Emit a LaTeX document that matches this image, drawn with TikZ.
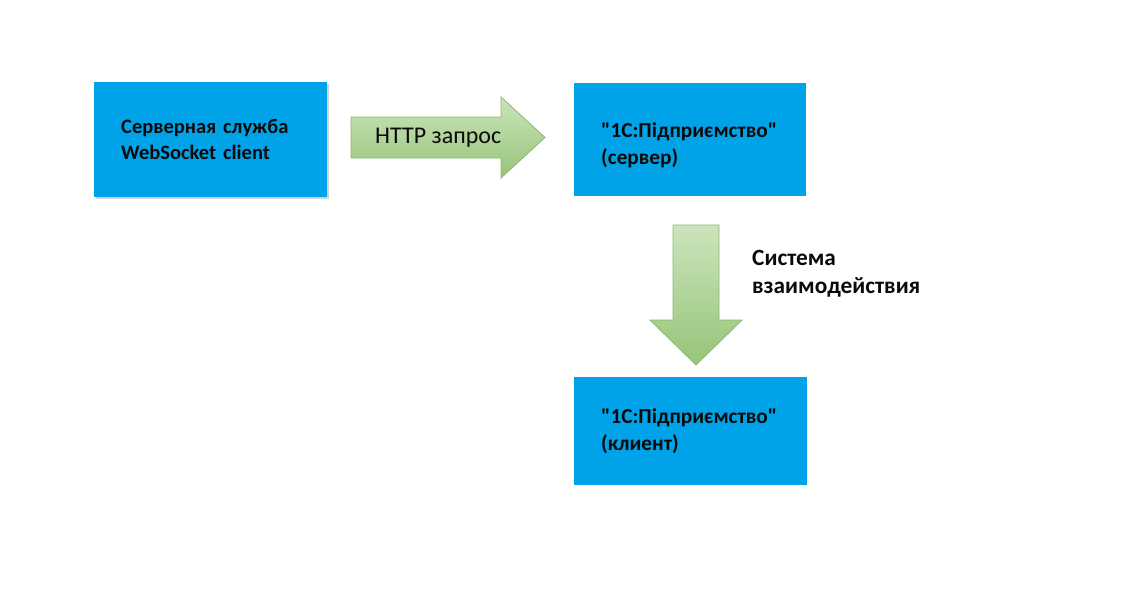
\documentclass[tikz,border=0pt]{standalone}
\usepackage{fontspec}
\setmainfont{Carlito}[Ligatures=TeXOff]
\usetikzlibrary{shadows}
\definecolor{boxblue}{RGB}{0,162,232}
\definecolor{greentop}{RGB}{203,228,188}
\definecolor{greenbot}{RGB}{150,196,120}
\definecolor{greenline}{RGB}{140,185,110}
\definecolor{txt}{RGB}{10,10,10}
\tikzset{
  bluebox/.style={fill=boxblue, draw=none, anchor=north west, inner xsep=27pt,
    align=left, text=txt},
  blockarrow/.style={top color=greentop, bottom color=greenbot, draw=greenline, line width=0.8pt, line join=miter},
  lbl/.style={text=txt, inner sep=0pt, anchor=west, align=left}
}
\begin{document}
\begin{tikzpicture}[x=1pt,y=-1pt]
\useasboundingbox (0,0) rectangle (1138,597);
\fill[white] (0,0) rectangle (1138,597);
% boxes
\node[bluebox, minimum width=233pt, minimum height=115pt, text width=179pt,
  font=\bfseries\fontsize{20.5}{26}\selectfont,
  drop shadow={shadow xshift=1.5pt, shadow yshift=-1.5pt, opacity=0.35}] (client) at (94,82)
  {Серверная служба\\WebSocket client};
\node[bluebox, minimum width=232pt, minimum height=113pt, align=none,
  font=\bfseries\fontsize{21.3}{27}\selectfont] (server) at (574,83)
  {\raisebox{-5pt}[\height][\depth]{\parbox{178pt}{"1С:Підприємство"\\(сервер)}}};
\node[bluebox, minimum width=233pt, minimum height=108pt, text width=179pt,
  font=\bfseries\fontsize{21.3}{27}\selectfont] (client1c) at (574,377)
  {"1С:Підприємство"\\(клиент)};
% right block arrow
\shade[blockarrow] (351,117) -- (501,117) -- (501,97) -- (545,137.5) -- (501,178) -- (501,158) -- (351,158) -- cycle;
\node[lbl, font=\fontsize{24}{28}\selectfont] (http) at (375,137.5) {HTTP запрос};
% down block arrow
\shade[blockarrow] (673,225) -- (719,225) -- (719,320) -- (742,320) -- (696,365) -- (650,320) -- (673,320) -- cycle;
\node[lbl, font=\bfseries\fontsize{23.3}{28}\selectfont] (sys) at (752,274) {Система\\взаимодействия};
\end{tikzpicture}
\end{document}
